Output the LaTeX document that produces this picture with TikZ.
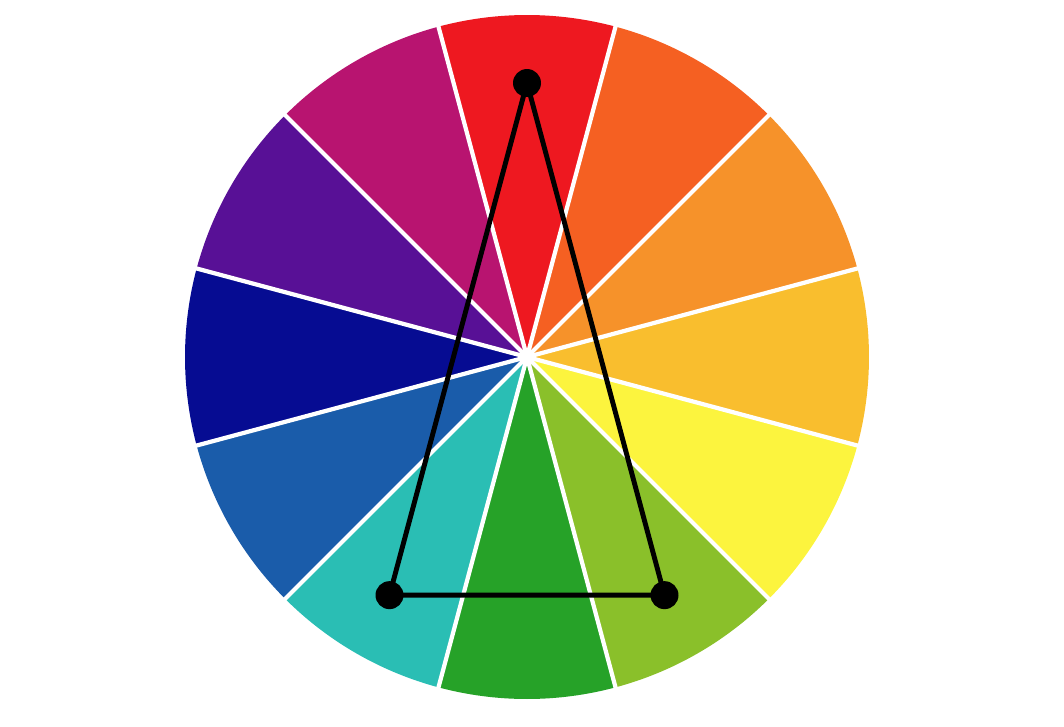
\documentclass[tikz,border=0pt]{standalone}
\usepackage{tikz}

% colours of the wheel
\definecolor{wheelRed}{RGB}{238,24,32}
\definecolor{wheelRedOrange}{RGB}{245,96,34}
\definecolor{wheelOrange}{RGB}{246,146,42}
\definecolor{wheelYellowOrange}{RGB}{249,190,46}
\definecolor{wheelYellow}{RGB}{252,244,62}
\definecolor{wheelYellowGreen}{RGB}{138,192,42}
\definecolor{wheelGreen}{RGB}{38,162,40}
\definecolor{wheelTeal}{RGB}{42,190,180}
\definecolor{wheelBlue}{RGB}{26,92,170}
\definecolor{wheelDarkBlue}{RGB}{6,12,146}
\definecolor{wheelViolet}{RGB}{88,16,150}
\definecolor{wheelRedViolet}{RGB}{184,20,112}

\begin{document}
\begin{tikzpicture}[
    dot/.style={circle, fill=black, inner sep=0pt, minimum size=0.28cm},
    spoke/.style={white, line width=1.2pt}]
    \useasboundingbox (0,0) rectangle (10.64,7.26);

    % Centre of the wheel
    \coordinate (C) at (5.27,3.69);

    % Draw the twelve wedges
    \foreach \ang/\col in {90/wheelRed, 60/wheelRedOrange, 30/wheelOrange,
        0/wheelYellowOrange, -30/wheelYellow, -60/wheelYellowGreen,
        -90/wheelGreen, -120/wheelTeal, -150/wheelBlue, 180/wheelDarkBlue,
        150/wheelViolet, 120/wheelRedViolet}
        \fill[\col] (C) -- ([shift={(\ang-15:3.42)}]C)
            arc[start angle=\ang-15, end angle=\ang+15, radius=3.42] -- cycle;

    % White lines between the wedges
    \foreach \ang in {15,45,...,345}
        \draw[spoke] (C) -- ([shift={(\ang:3.44)}]C);

    % The triangle
    \node[dot] (top) at ([shift={(90:2.74)}]C) {};
    \node[dot] (left) at ([shift={(-120:2.75)}]C) {};
    \node[dot] (right) at ([shift={(-60:2.75)}]C) {};
    \draw[line width=1.4pt, line join=round] (top.center) -- (left.center) -- (right.center) -- cycle;
\end{tikzpicture}
\end{document}
